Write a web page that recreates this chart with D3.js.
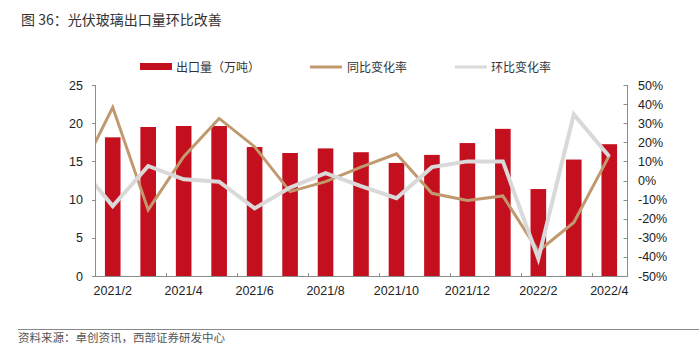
<!DOCTYPE html>
<html><head><meta charset="utf-8">
<script src="https://cdn.jsdelivr.net/npm/d3@7/dist/d3.min.js"></script>
<style>
body{margin:0;background:#fff;}
svg{display:block;}
</style></head>
<body>
<svg id="c" width="699" height="345"></svg>
<script>
// ---- data ----
const months = ["2021/2","2021/3","2021/4","2021/5","2021/6","2021/7","2021/8","2021/9","2021/10","2021/11","2021/12","2022/1","2022/2","2022/3","2022/4"];
const exportVol = [18.15,19.5,19.63,19.63,16.88,16.1,16.7,16.2,14.8,15.85,17.4,19.26,11.38,15.24,17.25];
// leading point (2021/1) sits left of the plot and is clipped, as in the reference
const prevMonth = "2021/1";
const yoyPrev = 1;
const yoy = [38.3,-15.4,12.5,32.5,17.7,-5.8,-0.6,7,14,-6.7,-10.4,-8.1,-37,-22,13];
const momPrev = 9;
const mom = [-13.4,7.6,0.6,-0.6,-14.6,-3.7,3.8,-3,-9.3,7,10,10,-40.9,34.6,12.6];
const leftTicks = [0,5,10,15,20,25];
const rightTicks = [-50,-40,-30,-20,-10,0,10,20,30,40,50];
const xLabels = ["2021/2","2021/4","2021/6","2021/8","2021/10","2021/12","2022/2","2022/4"];
const legendItems = ["出口量（万吨）","同比变化率","环比变化率"];
const title = "图 36：光伏玻璃出口量环比改善";
const source = "资料来源：卓创资讯，西部证券研发中心";

// ---- layout ----
const svg = d3.select("#c");
const L = 95, R = 627, T = 85, B = 276;
const cRed = "#C40F1F", cTan = "#C09A6E", cGray = "#D9D9D9", axisC = "#8c8c8c";
const numFont = "'Liberation Sans', Arial, sans-serif";
const cjkFont = "'Noto Sans CJK SC', 'Noto Sans', sans-serif";

const x = d3.scaleBand().domain(months).range([L, R]).paddingInner(0.56).paddingOuter(0.28);
const yL = d3.scaleLinear().domain([0,25]).range([B, T]);
const yR = d3.scaleLinear().domain([-50,50]).range([B, T]);
const step = x.step();
const cx = i => x(months[0]) + x.bandwidth()/2 + i*step;

// title
svg.append("text").attr("x",21).attr("y",25).attr("font-family",cjkFont)
  .attr("font-size",14).attr("fill","#333").text(title);

// legend
const lg = svg.append("g");
lg.append("rect").attr("x",140).attr("y",63).attr("width",32).attr("height",7).attr("fill",cRed);
lg.append("text").attr("x",176).attr("y",71.5).attr("font-family",cjkFont).attr("font-size",12).attr("fill","#333").text(legendItems[0]);
lg.append("line").attr("x1",310).attr("x2",342).attr("y1",67).attr("y2",67).attr("stroke",cTan).attr("stroke-width",3);
lg.append("text").attr("x",347).attr("y",71.5).attr("font-family",cjkFont).attr("font-size",12).attr("fill","#333").text(legendItems[1]);
lg.append("line").attr("x1",455).attr("x2",487).attr("y1",67).attr("y2",67).attr("stroke",cGray).attr("stroke-width",3);
lg.append("text").attr("x",491).attr("y",71.5).attr("font-family",cjkFont).attr("font-size",12).attr("fill","#333").text(legendItems[2]);

// bars
svg.append("g").selectAll("rect").data(exportVol).join("rect")
  .attr("x",(d,i)=>x(months[i])).attr("width",x.bandwidth())
  .attr("y",d=>yL(d)).attr("height",d=>B-yL(d)).attr("fill",cRed);

// clip
svg.append("clipPath").attr("id","pc").append("rect").attr("x",L).attr("y",T-10).attr("width",R-L).attr("height",B-T+20);

const line = d3.line().x(d=>cx(d[0])).y(d=>yR(d[1]));
const yoyPts = [[-1,yoyPrev]].concat(yoy.map((v,i)=>[i,v]));
const momPts = [[-1,momPrev]].concat(mom.map((v,i)=>[i,v]));
const lg2 = svg.append("g").attr("clip-path","url(#pc)");
lg2.append("path").attr("d",line(yoyPts)).attr("fill","none").attr("stroke",cTan).attr("stroke-width",3).attr("stroke-linejoin","miter");
lg2.append("path").attr("d",line(momPts)).attr("fill","none").attr("stroke",cGray).attr("stroke-width",4).attr("stroke-linejoin","miter");

// axes
const ax = svg.append("g").attr("stroke",axisC).attr("stroke-width",1).attr("fill","none");
ax.append("line").attr("x1",L+0.5).attr("x2",L+0.5).attr("y1",T).attr("y2",B);
ax.append("line").attr("x1",R+0.5).attr("x2",R+0.5).attr("y1",T).attr("y2",B);
ax.append("line").attr("x1",L).attr("x2",R+1).attr("y1",B+0.5).attr("y2",B+0.5);
leftTicks.forEach(t=>{
  const yy = Math.round(yL(t))+0.5;
  ax.append("line").attr("x1",L-3).attr("x2",L).attr("y1",yy).attr("y2",yy);
  svg.append("text").attr("x",83).attr("y",yL(t)+4.5).attr("text-anchor","end")
    .attr("font-family",numFont).attr("font-size",12.5).attr("fill","#222").text(t);
});
rightTicks.forEach(t=>{
  const yy = Math.round(yR(t))+0.5;
  ax.append("line").attr("x1",R-3.5).attr("x2",R).attr("y1",yy).attr("y2",yy);
  svg.append("text").attr("x",638).attr("y",yR(t)+4.5).attr("text-anchor","start")
    .attr("font-family",numFont).attr("font-size",12.5).attr("fill","#222").text(t+"%");
});
// x ticks at every second category boundary
for (let i=2;i<months.length;i+=2){
  const xx = Math.round(L + i*step)+0.5;
  ax.append("line").attr("x1",xx).attr("x2",xx).attr("y1",B-3).attr("y2",B);
}
xLabels.forEach(lab=>{
  svg.append("text").attr("x",x(lab)+x.bandwidth()/2).attr("y",295).attr("text-anchor","middle")
    .attr("font-family",numFont).attr("font-size",12.5).attr("fill","#222").text(lab);
});

// source
svg.append("line").attr("x1",18).attr("x2",699).attr("y1",329.5).attr("y2",329.5).attr("stroke","#888").attr("stroke-width",1.2);
svg.append("text").attr("x",18).attr("y",342).attr("font-family",cjkFont).attr("font-size",11.5).attr("fill","#555").text(source);
</script>
</body></html>
